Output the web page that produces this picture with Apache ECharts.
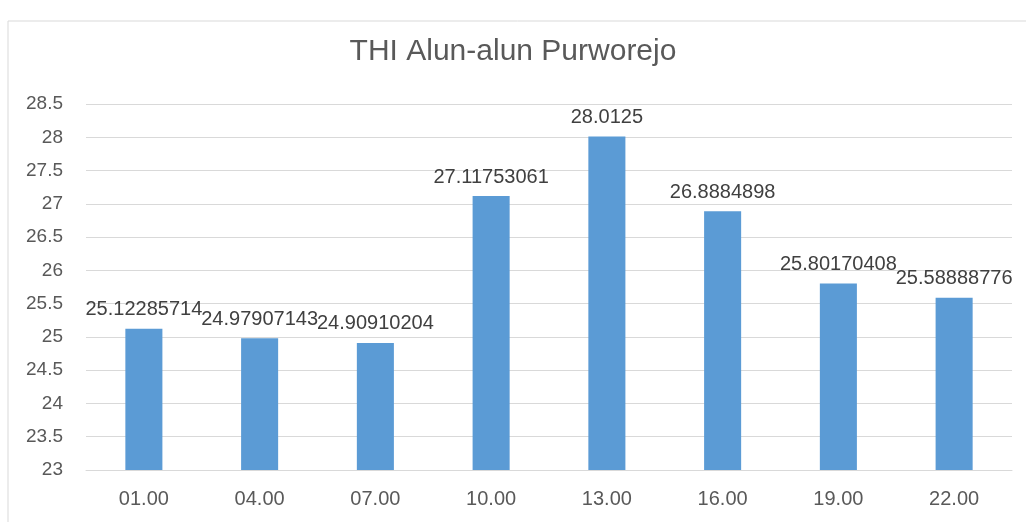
<!DOCTYPE html>
<html>
<head>
<meta charset="utf-8">
<script src="https://cdn.jsdelivr.net/npm/echarts@6/dist/echarts.min.js"></script>
<style>
html,body{margin:0;padding:0;background:#fff;}
#c{width:1026px;height:522px;}
</style>
</head>
<body>
<div id="c"></div>
<script>
const titleText = 'THI Alun-alun Purworejo';
const categories = ['01.00', '04.00', '07.00', '10.00', '13.00', '16.00', '19.00', '22.00'];
const thiValues = [25.12285714, 24.97907143, 24.90910204, 27.11753061, 28.0125, 26.8884898, 25.80170408, 25.58888776];
const labelTexts = ['25.12285714', '24.97907143', '24.90910204', '27.11753061', '28.0125', '26.8884898', '25.80170408', '25.58888776'];
const yMin = 23, yMax = 28.5, yStep = 0.5;

const chart = echarts.init(document.getElementById('c'), null, {renderer: 'canvas'});
const font = '"Liberation Sans", Arial, sans-serif';
chart.setOption({
  animation: false,
  backgroundColor: '#ffffff',
  graphic: [{
    type: 'rect',
    shape: {x: 8, y: 21, width: 1040, height: 540},
    style: {fill: 'none', stroke: '#D9D9D9', lineWidth: 1},
    silent: true
  }],
  title: {
    text: titleText,
    left: 'center',
    top: 32,
    textStyle: {fontFamily: font, fontSize: 30, fontWeight: 'normal', color: '#595959'}
  },
  grid: {left: 86, right: 14, top: 104, bottom: 52, containLabel: false},
  xAxis: {
    type: 'category',
    data: categories,
    axisLine: {show: true, lineStyle: {color: '#D9D9D9', width: 1}},
    axisTick: {show: false},
    axisLabel: {fontFamily: font, fontSize: 20, color: '#595959', margin: 19}
  },
  yAxis: {
    type: 'value',
    min: yMin, max: yMax, interval: yStep,
    axisLine: {show: false},
    axisTick: {show: false},
    splitLine: {lineStyle: {color: '#D9D9D9', width: 1}},
    axisLabel: {fontFamily: font, fontSize: 19, color: '#595959', margin: 23}
  },
  series: [{
    type: 'bar',
    data: thiValues,
    barCategoryGap: '68%',
    itemStyle: {color: '#5B9BD5'},
    label: {
      show: true,
      position: 'top',
      distance: 9,
      fontFamily: font,
      fontSize: 20,
      color: '#404040',
      formatter: p => labelTexts[p.dataIndex]
    }
  }]
});
</script>
</body>
</html>
